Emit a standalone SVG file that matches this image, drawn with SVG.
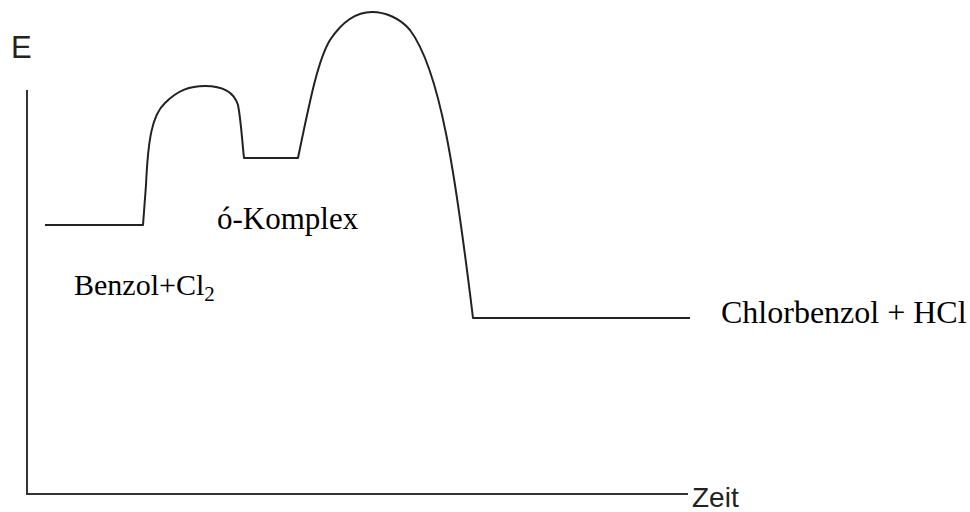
<svg xmlns="http://www.w3.org/2000/svg" width="970" height="512" viewBox="0 0 970 512">
<style>
.ax{fill:none;stroke:#333;stroke-width:2}
.cv{fill:none;stroke:#222;stroke-width:2;stroke-linejoin:round}
.lbl{font-family:"Liberation Serif",serif;font-size:31px;fill:#000}
.axl{font-family:"Liberation Sans",sans-serif;font-size:28px;fill:#222}
</style>
<rect width="970" height="512" fill="#fff"/>
<g id="axes">
<path class="ax" d="M27,90 V494 H688"/>
<text class="axl" x="11" y="58" style="font-size:31px">E</text>
<text class="axl" x="692" y="507">Zeit</text>
</g>
<g id="connectors">
<path class="cv" d="M45,225 H143 L146,185 C148,140 152,115 165,103 C178,90 190,86 205,86 C222,86 234,92 238,105 C241,120 242,140 244,158 H298 C310,100 318,60 330,40 C342,22 355,12 372,12 C385,12 400,18 410,30 C440,70 455,170 473,318 H690"/>
</g>
<g id="komplex"><text class="lbl" x="217" y="229">ó-Komplex</text></g>
<g id="benzol"><text class="lbl" x="74" y="295" style="font-size:30px">Benzol+Cl<tspan font-size="21" dy="6">2</tspan></text></g>
<g id="chlorbenzol"><text class="lbl" x="721" y="323" style="font-size:32px">Chlorbenzol + HCl</text></g>
</svg>
